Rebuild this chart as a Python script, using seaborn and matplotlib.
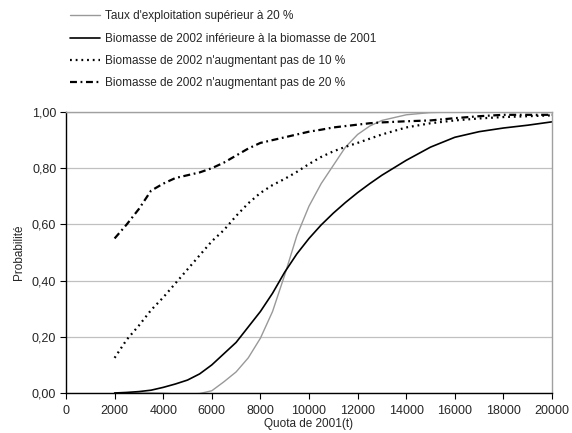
import matplotlib
matplotlib.use("Agg")
import matplotlib.pyplot as plt
from matplotlib.lines import Line2D
from matplotlib.ticker import FuncFormatter, MultipleLocator
import seaborn as sns
import pandas as pd

quota = [2000, 2500, 3000, 3500, 4000, 4500, 5000, 5500, 6000, 6500, 7000, 7500,
         8000, 8500, 9000, 9500, 10000, 10500, 11000, 11500, 12000, 12500, 13000,
         14000, 15000, 16000, 17000, 18000, 19000, 20000]

taux_20 = [0.0, 0.0, 0.0, 0.0, -0.001, -0.003, -0.004, -0.002, 0.008, 0.04, 0.075, 0.125,
           0.195, 0.29, 0.42, 0.56, 0.665, 0.745, 0.81, 0.875, 0.92, 0.95, 0.97,
           0.99, 0.998, 1.0, 1.0, 1.0, 1.0, 1.0]

biom_inf_2001 = [0.0, 0.002, 0.005, 0.01, 0.02, 0.032, 0.046, 0.068, 0.1, 0.14, 0.18, 0.235,
                 0.29, 0.355, 0.43, 0.495, 0.55, 0.598, 0.64, 0.678, 0.713, 0.745, 0.775,
                 0.828, 0.875, 0.91, 0.93, 0.943, 0.953, 0.965]

biom_10 = [0.125, 0.19, 0.24, 0.295, 0.34, 0.39, 0.44, 0.49, 0.54, 0.58, 0.63, 0.675,
           0.712, 0.74, 0.762, 0.787, 0.815, 0.84, 0.86, 0.876, 0.89, 0.905, 0.92,
           0.945, 0.96, 0.97, 0.977, 0.982, 0.985, 0.988]

biom_20 = [0.55, 0.6, 0.655, 0.72, 0.745, 0.765, 0.775, 0.785, 0.8, 0.82, 0.845, 0.87,
           0.89, 0.9, 0.91, 0.92, 0.93, 0.937, 0.945, 0.95, 0.955, 0.96, 0.963,
           0.967, 0.97, 0.978, 0.985, 0.99, 0.99, 0.99]

labels = ["Taux d'exploitation supérieur à 20 %",
          "Biomasse de 2002 inférieure à la biomasse de 2001",
          "Biomasse de 2002 n'augmentant pas de 10 %",
          "Biomasse de 2002 n'augmentant pas de 20 %"]

x_ticks = list(range(0, 20001, 2000))

sns.set_style("white")
plt.rcParams['font.family'] = ['Liberation Sans', 'DejaVu Sans']
plt.rcParams['lines.scale_dashes'] = False

fig = plt.figure(figsize=(5.72, 4.33), dpi=100)
ax = fig.add_axes([66/572, 1-393/433, (552-66)/572, (393-112)/433])

styles = [
    dict(color="#999999", lw=1.0, ls="-"),
    dict(color="black", lw=1.2, ls="-"),
    dict(color="black", lw=1.6, ls=(0, (1.3, 2.8))),
    dict(color="black", lw=1.6, ls=(0, (5, 2.6, 1.3, 2.6))),
]
series = [taux_20, biom_inf_2001, biom_10, biom_20]

for vals, st in zip(series, styles):
    df = pd.DataFrame({"quota": quota, "p": vals})
    sns.lineplot(data=df, x="quota", y="p", ax=ax, color=st["color"],
                 linewidth=st["lw"], linestyle=st["ls"])

ax.set_xlim(0, 20000)
ax.set_ylim(0, 1)
ax.set_xticks(x_ticks)
ax.yaxis.set_major_locator(MultipleLocator(0.2))
ax.yaxis.set_major_formatter(FuncFormatter(lambda v, p: f"{v:.2f}".replace(".", ",")))
ax.grid(axis="y", color="#c0c0c0", lw=0.9)
ax.set_axisbelow(True)
for s in ["left", "bottom"]:
    ax.spines[s].set_color("black")
    ax.spines[s].set_linewidth(1.0)
for s in ["top", "right"]:
    ax.spines[s].set_color("#a0a0a0")
    ax.spines[s].set_linewidth(1.0)
ax.tick_params(axis="both", direction="out", length=4, width=0.8, color="black",
               labelsize=9, left=True, bottom=True)
ax.tick_params(axis="x", pad=4.5)
ax.tick_params(axis="y", pad=3)
ax.set_xlabel("Quota de 2001(t)", fontsize=8.5, labelpad=0.5)
ax.set_ylabel("Probabilité", fontsize=8.5, labelpad=5)

handles = [Line2D([], [], color=st["color"], lw=st["lw"], ls=st["ls"]) for st in styles]
fig.legend(handles, labels, loc="upper left", bbox_to_anchor=(70/572, 1-10.5/433),
           frameon=False, fontsize=8.5, handlelength=2.5, handletextpad=0.45,
           labelspacing=0.86, borderpad=0, borderaxespad=0)

fig.savefig("out.png", dpi=100)
